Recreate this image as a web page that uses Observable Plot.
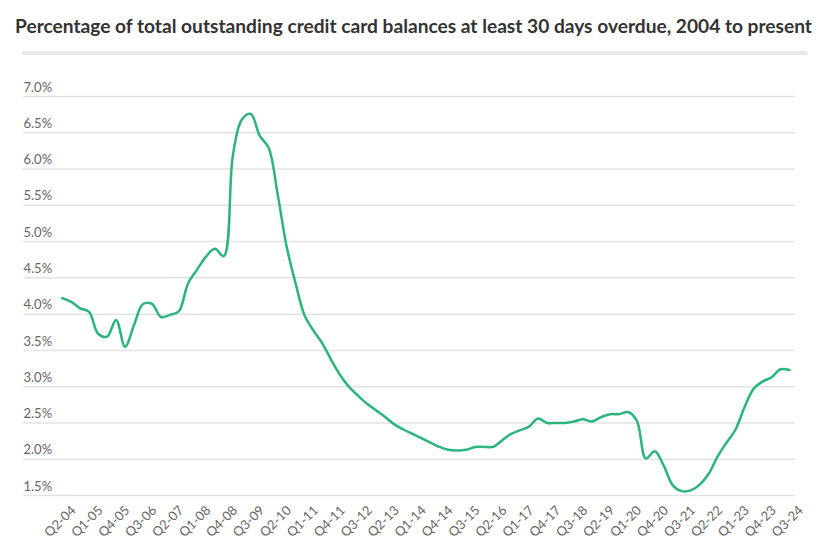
<!DOCTYPE html>
<html>
<head>
<meta charset="utf-8">
<script src="https://cdn.jsdelivr.net/npm/d3@7"></script>
<script src="https://cdn.jsdelivr.net/npm/@observablehq/plot@0.6"></script>
<style>
  html, body { margin: 0; padding: 0; background: #fff; }
  #wrap { position: relative; width: 822px; height: 553px; overflow: hidden; }
  #chart, #title { position: absolute; left: 0; top: 0; }
  #bar { position: absolute; left: 22px; top: 51px; width: 785px; height: 4px; background: #e8e8e8; }
</style>
</head>
<body>
<div id="wrap">
  <div id="chart"></div>
  <div id="bar"></div>
  <svg id="title" width="822" height="50">
    <text x="15" y="33" font-family="Lato" font-weight="700" font-size="18.5" fill="#333" textLength="797" lengthAdjust="spacingAndGlyphs">Percentage of total outstanding credit card balances at least 30 days overdue, 2004 to present</text>
  </svg>
</div>
<script>
const tickLabels = ["Q2-04","Q1-05","Q4-05","Q3-06","Q2-07","Q1-08","Q4-08","Q3-09","Q2-10","Q1-11","Q4-11","Q3-12","Q2-13","Q1-14","Q4-14","Q3-15","Q2-16","Q1-17","Q4-17","Q3-18","Q2-19","Q1-20","Q4-20","Q3-21","Q2-22","Q1-23","Q4-23","Q3-24"];
const tickStep = 3; // one label every 3 quarters
const delinquency = [
  4.22,4.17,4.08,4.03,3.73,3.69,3.92,3.55,3.85,4.14,
  4.14,3.96,3.99,4.04,4.42,4.61,4.79,4.90,4.80,6.18,
  6.68,6.76,6.46,6.29,5.65,4.93,4.42,3.98,3.77,3.59,
  3.36,3.15,2.99,2.87,2.76,2.67,2.58,2.48,2.41,2.35,
  2.29,2.23,2.17,2.13,2.12,2.13,2.17,2.17,2.17,2.26,
  2.35,2.40,2.45,2.56,2.50,2.50,2.50,2.52,2.55,2.52,
  2.58,2.62,2.62,2.65,2.53,2.01,2.11,1.91,1.64,1.56,
  1.57,1.65,1.80,2.04,2.23,2.41,2.72,2.97,3.07,3.13,
  3.24,3.23
];
const yTicks = [1.5,2.0,2.5,3.0,3.5,4.0,4.5,5.0,5.5,6.0,6.5,7.0];

const data = delinquency.map((v, i) => ({i, v}));
const ticks = tickLabels.map((label, k) => ({i: k * tickStep, label}));

const chart = Plot.plot({
  width: 822,
  height: 553,
  marginTop: 96,
  marginBottom: 58,
  marginLeft: 23,
  marginRight: 27,
  style: {fontFamily: "Lato", background: "transparent"},
  x: {domain: [-4.31, 81.67], axis: null},
  y: {domain: [1.5, 7.0], axis: null},
  marks: [
    Plot.gridY(yTicks, {stroke: "#e3e3e3", strokeOpacity: 1, strokeWidth: 1.5}),
    Plot.axisY(yTicks, {
      tickSize: 0, tickPadding: 0, textAnchor: "start", dy: -9, dx: 0,
      tickFormat: d => d.toFixed(1) + "%", fontSize: 13, fill: "#666", label: null
    }),
    Plot.text(ticks, {
      x: "i", y: () => 1.5, text: "label", rotate: -45, textAnchor: "middle",
      dy: 26, dx: -2, fontSize: 13, fill: "#666"
    }),
    Plot.line(data, {x: "i", y: "v", stroke: "#2bb57c", strokeWidth: 2.5, curve: "catmull-rom"})
  ]
});
document.getElementById("chart").appendChild(chart);
</script>
</body>
</html>
